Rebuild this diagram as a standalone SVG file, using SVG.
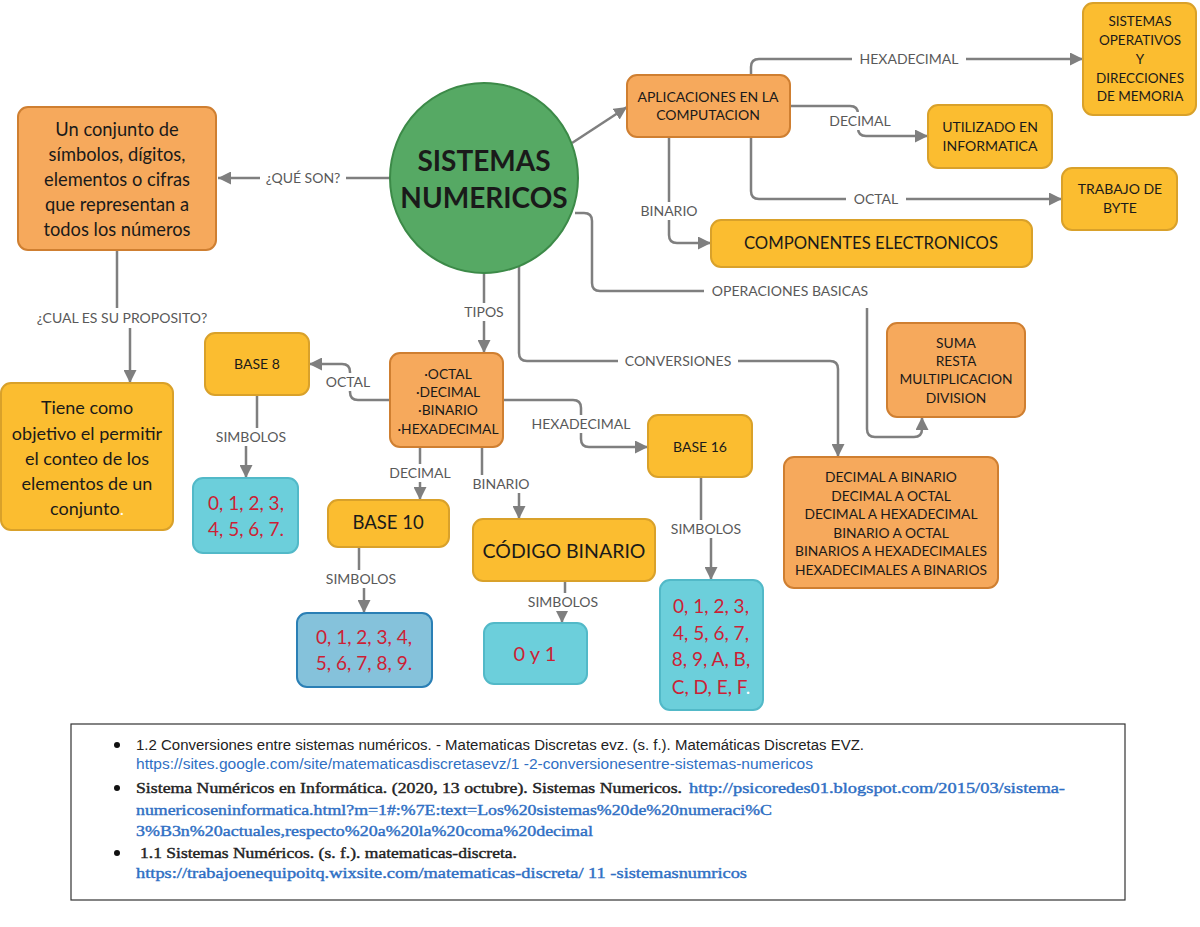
<svg xmlns="http://www.w3.org/2000/svg" width="1200" height="927" viewBox="0 0 1200 927">
<style>
.t{font-family:Lato,"Liberation Sans",sans-serif;text-anchor:middle;fill:#1a1a1a}
.lbl{font-family:Lato,"Liberation Sans",sans-serif;text-anchor:middle;fill:#595959;font-size:14px}
.or{fill:#f6a95c;stroke:#cf7f31;stroke-width:2}
.ye{fill:#fbbd30;stroke:#d9a12a;stroke-width:2}
.cy{fill:#6ccfdb;stroke:#52b9c8;stroke-width:2}
.bl{fill:#85c2db;stroke:#2a7fb5;stroke-width:2}
.red{fill:#cc1f36}
.c{fill:none;stroke:#7f7f7f;stroke-width:2.5}
.ca{fill:none;stroke:#7f7f7f;stroke-width:2.5;marker-end:url(#arr)}
.lb{fill:#ffffff}
.ref{font-family:"Liberation Sans",sans-serif;font-size:14px;fill:#222}
.refs{font-family:"Liberation Serif",serif;font-size:15px;fill:#222;stroke:#222;stroke-width:0.4}
.u{fill:#2f6fc4}
.refs.u{stroke:#2f6fc4}
</style>
<defs>
<marker id="arr" viewBox="0 0 12 12" refX="12" refY="6" markerWidth="13" markerHeight="13" markerUnits="userSpaceOnUse" orient="auto"><path d="M0,0 L12,6 L0,12 z" fill="#7f7f7f"/></marker>
</defs>
<rect width="1200" height="927" fill="#ffffff"/>

<g id="connectors">
<path class="ca" d="M390,178 H218"/>
<path class="ca" d="M117,250 V318 H130 V383"/>
<path class="ca" d="M572,143 L627,107"/>
<path class="ca" d="M484,273 V353"/>
<path class="ca" d="M519,266 V353 Q519,361 527,361 H830 Q838,361 838,369 V457"/>
<path class="ca" d="M575,213 H584 Q592,213 592,221 V283 Q592,291 600,291 H859 Q867,291 867,299 V429 Q867,437 875,437 H914 Q922,437 922,429 V417"/>
<path class="ca" d="M751,75 V67 Q751,59 759,59 H1083"/>
<path class="ca" d="M790,106 H850 Q858,106 858,114 V128 Q858,136 866,136 H928"/>
<path class="ca" d="M751,137 V191 Q751,199 759,199 H1062"/>
<path class="ca" d="M669,137 V235 Q669,243 677,243 H711"/>
<path class="ca" d="M390,400 H358 Q350,400 350,392 V372 Q350,364 342,364 H309"/>
<path class="ca" d="M503,400 H573 Q581,400 581,408 V439 Q581,447 589,447 H648"/>
<path class="ca" d="M420,447 V500"/>
<path class="ca" d="M482,447 V484 H519 V519"/>
<path class="ca" d="M257,395 V437 H246 V478"/>
<path class="ca" d="M359,547 V579 H364 V613"/>
<path class="ca" d="M565,581 V602 H562 V623"/>
<path class="ca" d="M701,477 V529 H711 V580"/>

<rect class="lb" x="260" y="169" width="86" height="18"/>
<text class="lbl" x="303" y="183">¿QUÉ SON?</text>
<rect class="lb" x="30" y="308" width="184" height="20"/>
<text class="lbl" x="122" y="323">¿CUAL ES SU PROPOSITO?</text>
<rect class="lb" x="458" y="303" width="52" height="18"/>
<text class="lbl" x="484" y="317">TIPOS</text>
<rect class="lb" x="618" y="352" width="120" height="18"/>
<text class="lbl" x="678" y="366">CONVERSIONES</text>
<rect class="lb" x="704" y="282" width="172" height="26"/>
<text class="lbl" x="790" y="296">OPERACIONES BASICAS</text>
<rect class="lb" x="852" y="50" width="114" height="18"/>
<text class="lbl" x="909" y="64">HEXADECIMAL</text>
<rect class="lb" x="824" y="112" width="72" height="18"/>
<text class="lbl" x="860" y="126">DECIMAL</text>
<rect class="lb" x="846" y="190" width="60" height="18"/>
<text class="lbl" x="876" y="204">OCTAL</text>
<rect class="lb" x="636" y="202" width="66" height="18"/>
<text class="lbl" x="669" y="216">BINARIO</text>
<rect class="lb" x="320" y="373" width="56" height="18"/>
<text class="lbl" x="348" y="387">OCTAL</text>
<rect class="lb" x="523" y="415" width="116" height="18"/>
<text class="lbl" x="581" y="429">HEXADECIMAL</text>
<rect class="lb" x="384" y="464" width="72" height="18"/>
<text class="lbl" x="420" y="478">DECIMAL</text>
<rect class="lb" x="468" y="475" width="66" height="18"/>
<text class="lbl" x="501" y="489">BINARIO</text>
<rect class="lb" x="211" y="428" width="80" height="18"/>
<text class="lbl" x="251" y="442">SIMBOLOS</text>
<rect class="lb" x="321" y="570" width="80" height="18"/>
<text class="lbl" x="361" y="584">SIMBOLOS</text>
<rect class="lb" x="523" y="593" width="80" height="18"/>
<text class="lbl" x="563" y="607">SIMBOLOS</text>
<rect class="lb" x="666" y="520" width="80" height="18"/>
<text class="lbl" x="706" y="534">SIMBOLOS</text>
</g>

<g id="sistemas">
<ellipse cx="484" cy="178" rx="94" ry="95" fill="#56a964" stroke="#3c8a48" stroke-width="2"/>
<text class="t" x="484" y="171" font-size="28" font-weight="bold" fill="#111">SISTEMAS</text>
<text class="t" x="484" y="208" font-size="28" font-weight="bold" fill="#111">NUMERICOS</text>
</g>

<g id="definicion">
<rect class="or" x="18" y="107" width="198" height="143" rx="10"/>
<text class="t" font-size="18.3"><tspan x="117" y="136">Un conjunto de</tspan><tspan x="117" y="161">símbolos, dígitos,</tspan><tspan x="117" y="186">elementos o cifras</tspan><tspan x="117" y="211">que representan a</tspan><tspan x="117" y="236">todos los números</tspan></text>
</g>

<g id="proposito">
<rect class="ye" x="1" y="383" width="172" height="147" rx="10"/>
<text class="t" font-size="18"><tspan x="87" y="414">Tiene como</tspan><tspan x="87" y="440">objetivo el permitir</tspan><tspan x="87" y="465">el conteo de los</tspan><tspan x="87" y="490">elementos de un</tspan><tspan x="87" y="515">conjunto<tspan fill="#ffffff">.</tspan></tspan></text>
</g>

<g id="aplicaciones">
<rect class="or" x="627" y="75" width="163" height="62" rx="10"/>
<text class="t" font-size="14"><tspan x="708" y="102">APLICACIONES EN LA</tspan><tspan x="708" y="120">COMPUTACION</tspan></text>
</g>

<g id="sistemas-operativos">
<rect class="ye" x="1083" y="3" width="113" height="112" rx="10"/>
<text class="t" font-size="13.5"><tspan x="1140" y="26">SISTEMAS</tspan><tspan x="1140" y="45">OPERATIVOS</tspan><tspan x="1140" y="64">Y</tspan><tspan x="1140" y="83">DIRECCIONES</tspan><tspan x="1140" y="101">DE MEMORIA</tspan></text>
</g>

<g id="informatica">
<rect class="ye" x="928" y="105" width="124" height="63" rx="10"/>
<text class="t" font-size="14"><tspan x="990" y="132">UTILIZADO EN</tspan><tspan x="990" y="151">INFORMATICA</tspan></text>
</g>

<g id="byte">
<rect class="ye" x="1062" y="168" width="115" height="62" rx="10"/>
<text class="t" font-size="14"><tspan x="1120" y="194">TRABAJO DE</tspan><tspan x="1120" y="213">BYTE</tspan></text>
</g>

<g id="componentes">
<rect class="ye" x="711" y="220" width="321" height="47" rx="10"/>
<text class="t" x="871" y="249" font-size="16.7">COMPONENTES ELECTRONICOS</text>
</g>

<g id="tipos">
<rect class="or" x="390" y="353" width="113" height="94" rx="10"/>
<text class="t" font-size="13.8"><tspan x="448" y="379">·OCTAL</tspan><tspan x="448" y="397">·DECIMAL</tspan><tspan x="448" y="415">·BINARIO</tspan><tspan x="448" y="434">·HEXADECIMAL</tspan></text>
</g>

<g id="base8">
<rect class="ye" x="205" y="333" width="104" height="62" rx="10"/>
<text class="t" x="257" y="369" font-size="14">BASE 8</text>
</g>

<g id="simbolos8">
<rect class="cy" x="193" y="478" width="105" height="75" rx="10"/>
<text class="t red" font-size="19"><tspan x="246" y="510">0, 1, 2, 3,</tspan><tspan x="246" y="536">4, 5, 6, 7.</tspan></text>
</g>

<g id="base10">
<rect class="ye" x="328" y="500" width="121" height="47" rx="10"/>
<text class="t" x="388" y="529" font-size="18.5">BASE 10</text>
</g>

<g id="simbolos10">
<rect class="bl" x="297" y="613" width="135" height="74" rx="10"/>
<text class="t red" font-size="19"><tspan x="364" y="644">0, 1, 2, 3, 4,</tspan><tspan x="364" y="670">5, 6, 7, 8, 9.</tspan></text>
</g>

<g id="codigo-binario">
<rect class="ye" x="473" y="519" width="182" height="62" rx="10"/>
<text class="t" x="564" y="558" font-size="19.5">CÓDIGO BINARIO</text>
</g>

<g id="simbolos2">
<rect class="cy" x="484" y="623" width="103" height="61" rx="10"/>
<text class="t red" x="535" y="661" font-size="20">0 y 1</text>
</g>

<g id="base16">
<rect class="ye" x="648" y="415" width="104" height="62" rx="10"/>
<text class="t" x="700" y="452" font-size="14">BASE 16</text>
</g>

<g id="simbolos16">
<rect class="cy" x="660" y="580" width="103" height="130" rx="10"/>
<text class="t red" font-size="19"><tspan x="711" y="613">0, 1, 2, 3,</tspan><tspan x="711" y="640">4, 5, 6, 7,</tspan><tspan x="711" y="666">8, 9, A, B,</tspan><tspan x="711" y="694">C, D, E, F<tspan fill="#ffffff">.</tspan></tspan></text>
</g>

<g id="conversiones">
<rect class="or" x="784" y="457" width="214" height="131" rx="10"/>
<text class="t" font-size="13.8"><tspan x="891" y="482">DECIMAL A BINARIO</tspan><tspan x="891" y="501">DECIMAL A OCTAL</tspan><tspan x="891" y="519">DECIMAL A HEXADECIMAL</tspan><tspan x="891" y="538">BINARIO A OCTAL</tspan><tspan x="891" y="556">BINARIOS A HEXADECIMALES</tspan><tspan x="891" y="575">HEXADECIMALES A BINARIOS</tspan></text>
</g>

<g id="operaciones">
<rect class="or" x="887" y="323" width="138" height="94" rx="10"/>
<text class="t" font-size="13.8"><tspan x="956" y="348">SUMA</tspan><tspan x="956" y="366">RESTA</tspan><tspan x="956" y="384">MULTIPLICACION</tspan><tspan x="956" y="403">DIVISION</tspan></text>
</g>

<g id="referencias">
<rect x="71" y="724" width="1054" height="176" fill="#ffffff" stroke="#333333" stroke-width="1.2"/>
<circle cx="117" cy="745" r="3" fill="#111"/>
<circle cx="117" cy="788" r="3" fill="#111"/>
<circle cx="117" cy="853" r="3" fill="#111"/>
<text class="ref" x="136" y="750" textLength="728" lengthAdjust="spacingAndGlyphs">1.2 Conversiones entre sistemas numéricos. - Matematicas Discretas evz. (s. f.). Matemáticas Discretas EVZ.</text>
<text class="ref u" x="136" y="769" textLength="677" lengthAdjust="spacingAndGlyphs">https://sites.google.com/site/matematicasdiscretasevz/1 -2-conversionesentre-sistemas-numericos</text>
<text class="refs" x="136" y="793" textLength="546" lengthAdjust="spacingAndGlyphs">Sistema Numéricos en Informática. (2020, 13 octubre). Sistemas Numericos.</text>
<text class="refs u" x="689" y="793" textLength="376" lengthAdjust="spacingAndGlyphs">http://psicoredes01.blogspot.com/2015/03/sistema-</text>
<text class="refs u" x="136" y="815" textLength="636" lengthAdjust="spacingAndGlyphs">numericoseninformatica.html?m=1#:%7E:text=Los%20sistemas%20de%20numeraci%C</text>
<text class="refs u" x="136" y="836" textLength="457" lengthAdjust="spacingAndGlyphs">3%B3n%20actuales,respecto%20a%20la%20coma%20decimal</text>
<text class="refs" x="140" y="858" textLength="377" lengthAdjust="spacingAndGlyphs">1.1 Sistemas Numéricos. (s. f.). matematicas-discreta.</text>
<text class="refs u" x="136" y="878" textLength="611" lengthAdjust="spacingAndGlyphs">https://trabajoenequipoitq.wixsite.com/matematicas-discreta/ 11 -sistemasnumricos</text>
</g>
</svg>
